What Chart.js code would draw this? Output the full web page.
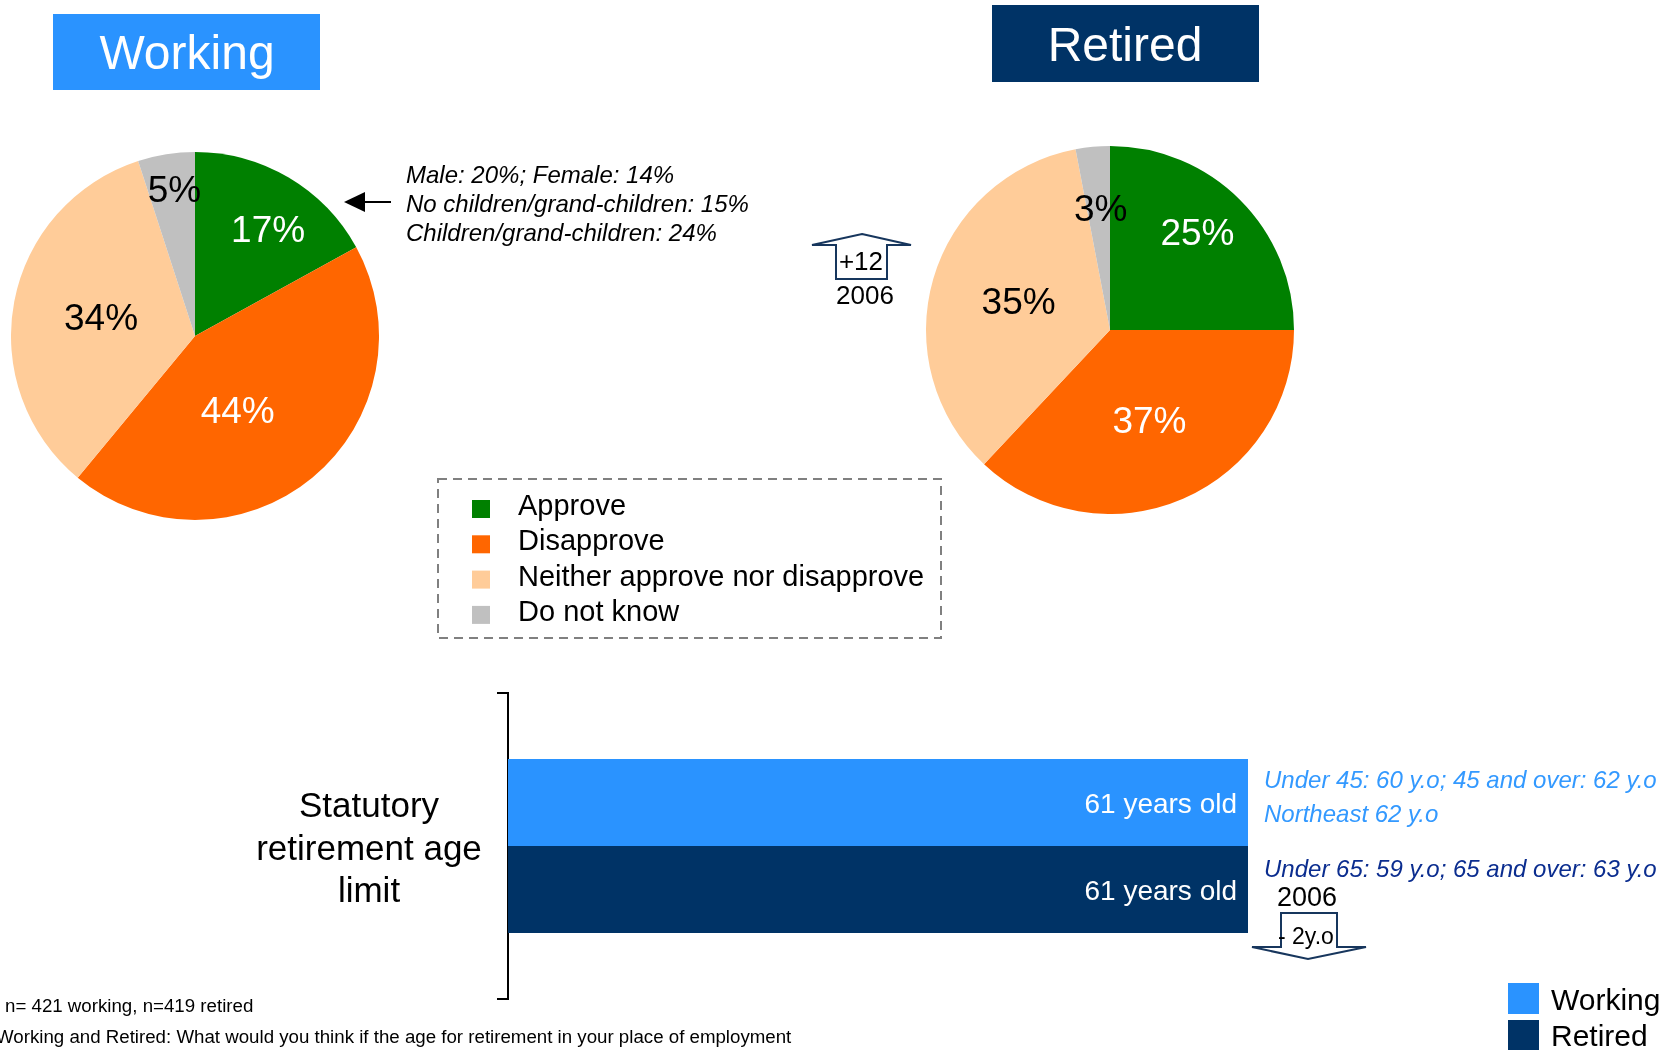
<!DOCTYPE html>
<html>
<head>
<meta charset="utf-8">
<script src="https://cdn.jsdelivr.net/npm/chart.js@4"></script>
<style>
  html, body { margin: 0; padding: 0; background: #fff; }
  #page { position: relative; width: 1680px; height: 1050px; overflow: hidden; font-family: "Liberation Sans", Arial, sans-serif; }
  canvas { position: absolute; }
  #overlay { position: absolute; left: 0; top: 0; pointer-events: none; }
</style>
</head>
<body>
<div id="page">
  <canvas id="workingPie" width="368" height="368" style="left:11px;top:152px"></canvas>
  <canvas id="retiredPie" width="368" height="368" style="left:926px;top:146px"></canvas>
  <canvas id="ageBar" width="1248" height="326" style="left:0;top:683px"></canvas>
  <svg id="overlay" width="1680" height="1050" xmlns="http://www.w3.org/2000/svg"></svg>
</div>
<script>
// pie data
const categories = ['Approve', 'Disapprove', 'Neither approve nor disapprove', 'Do not know'];
const workingShares = [17, 44, 34, 5];
const retiredShares = [25, 37, 35, 3];

// bar data
const barCategory = [['Statutory', 'retirement age', 'limit']];
const barSeries = ['Working', 'Retired'];
const workingAge = [61];
const retiredAge = [61];

const FONT = '"Liberation Sans", Arial, sans-serif';
const SLICE_COLORS = ['#008000', '#FF6600', '#FFCC99', '#C0C0C0'];
const SLICE_TEXT = ['#FFFFFF', '#FFFFFF', '#000000', '#000000'];
const SERIES_COLORS = ['#2A93FF', '#003366'];

// percent labels inside slices: radius fraction + small angle shift (deg) per slice
const pieLabels = {
    id: 'pieLabels',
    afterDatasetsDraw(chart, args, opts) {
        const ctx = chart.ctx;
        const meta = chart.getDatasetMeta(0);
        const data = chart.data.datasets[0].data;
        meta.data.forEach((arc, i) => {
            const p = arc.getProps(['x', 'y', 'startAngle', 'endAngle', 'outerRadius'], true);
            const mid = (p.startAngle + p.endAngle) / 2 + opts.shift[i] * Math.PI / 180;
            const r = p.outerRadius * opts.radius[i];
            ctx.save();
            ctx.font = '37px ' + FONT;
            ctx.fillStyle = SLICE_TEXT[i];
            ctx.textAlign = 'center';
            ctx.textBaseline = 'middle';
            ctx.fillText(data[i] + '%', p.x + Math.cos(mid) * r, p.y + Math.sin(mid) * r + 2);
            ctx.restore();
        });
    }
};

function makePie(id, values, radius, shift) {
    new Chart(document.getElementById(id), {
        type: 'pie',
        data: {
            labels: categories,
            datasets: [{ data: values, backgroundColor: SLICE_COLORS, borderWidth: 0 }]
        },
        options: {
            responsive: false,
            animation: false,
            layout: { padding: 0 },
            plugins: {
                legend: { display: false },
                tooltip: { enabled: false },
                pieLabels: { radius: radius, shift: shift }
            }
        },
        plugins: [pieLabels]
    });
}

makePie('workingPie', workingShares, [0.70, 0.47, 0.52, 0.80], [4, 10, 0, 1]);
makePie('retiredPie', retiredShares, [0.71, 0.54, 0.52, 0.66], [-3, 0, 1, 1]);

// "61 years old" inside the bars + the category label left of the bracket
const barLabels = {
    id: 'barLabels',
    afterDatasetsDraw(chart) {
        const ctx = chart.ctx;
        chart.data.datasets.forEach((ds, di) => {
            chart.getDatasetMeta(di).data.forEach((bar, i) => {
                ctx.save();
                ctx.font = '28px ' + FONT;
                ctx.fillStyle = '#FFFFFF';
                ctx.textAlign = 'right';
                ctx.textBaseline = 'middle';
                ctx.fillText(ds.data[i] + ' years old', bar.x - 11, bar.y + 3);
                ctx.restore();
            });
        });
        const y = chart.scales.y;
        chart.data.labels.forEach((lines, i) => {
            const cy = y.getPixelForTick(i) + 4;
            const lh = 42.5;
            ctx.save();
            ctx.font = '35px ' + FONT;
            ctx.fillStyle = '#000';
            ctx.textAlign = 'center';
            ctx.textBaseline = 'middle';
            lines.forEach((s, k) => {
                ctx.fillText(s, 369, cy + (k - (lines.length - 1) / 2) * lh);
            });
            ctx.restore();
        });
    }
};

new Chart(document.getElementById('ageBar'), {
    type: 'bar',
    data: {
        labels: barCategory,
        datasets: [
            { label: barSeries[0], data: workingAge, backgroundColor: SERIES_COLORS[0] },
            { label: barSeries[1], data: retiredAge, backgroundColor: SERIES_COLORS[1] }
        ]
    },
    options: {
        indexAxis: 'y',
        responsive: false,
        animation: false,
        layout: { padding: { top: 10, bottom: 10, left: 0, right: 0 } },
        datasets: { bar: { categoryPercentage: 0.569, barPercentage: 1.0, borderWidth: 0 } },
        scales: {
            x: { display: false, min: 0, max: Math.max(...workingAge, ...retiredAge) },
            y: {
                afterFit: (scale) => { scale.width = 508; },
                border: { display: true, color: '#000', width: 2 },
                grid: { drawOnChartArea: false, drawTicks: true, tickLength: 11, color: '#000', lineWidth: 2 },
                ticks: { display: false }
            }
        },
        plugins: { legend: { display: false }, tooltip: { enabled: false } }
    },
    plugins: [barLabels]
});

// ---- overlay: titles, notes, arrows, legends ----
const svg = document.getElementById('overlay');
const NS = 'http://www.w3.org/2000/svg';

function el(tag, attrs, text) {
    const e = document.createElementNS(NS, tag);
    for (const k in attrs) e.setAttribute(k, attrs[k]);
    if (text !== undefined) e.textContent = text;
    svg.appendChild(e);
    return e;
}

function txt(x, y, s, size, extra) {
    return el('text', Object.assign({ x: x, y: y, 'font-family': FONT, 'font-size': size, fill: '#000' }, extra || {}), s);
}

// title boxes
el('rect', { x: 53, y: 14, width: 267, height: 76, fill: SERIES_COLORS[0] });
txt(187, 69, barSeries[0], 48, { fill: '#fff', 'text-anchor': 'middle' });
el('rect', { x: 992, y: 5, width: 267, height: 77, fill: SERIES_COLORS[1] });
txt(1125, 61, barSeries[1], 48, { fill: '#fff', 'text-anchor': 'middle' });

// note beside the working pie
txt(406, 183, 'Male: 20%; Female: 14%', 24, { 'font-style': 'italic' });
txt(406, 212, 'No children/grand-children: 15%', 24, { 'font-style': 'italic' });
txt(406, 241, 'Children/grand-children: 24%', 24, { 'font-style': 'italic' });
el('line', { x1: 391, y1: 202, x2: 360, y2: 202, stroke: '#000', 'stroke-width': 2 });
el('polygon', { points: '344,202 365,192 365,212', fill: '#000' });

// change since 2006 (up)
el('polygon', { points: '862,234 911,245 887,245 887,279 836,279 836,245 812,245', fill: '#fff', stroke: '#17365D', 'stroke-width': 2 });
txt(861, 270, '+12', 26, { 'text-anchor': 'middle' });
txt(865, 304, '2006', 26, { 'text-anchor': 'middle' });

// pie legend
el('rect', { x: 438, y: 479, width: 503, height: 159, fill: 'none', stroke: '#808080', 'stroke-width': 2, 'stroke-dasharray': '9 6' });
categories.forEach((c, i) => {
    const base = 515 + i * 35.3;
    el('rect', { x: 472, y: base - 15, width: 18, height: 18, fill: SLICE_COLORS[i] });
    txt(518, base, c, 29);
});

// notes beside the bars
txt(1264, 788, 'Under 45: 60 y.o; 45 and over: 62 y.o', 24, { 'font-style': 'italic', fill: '#3399FF' });
txt(1264, 822, 'Northeast 62 y.o', 24, { 'font-style': 'italic', fill: '#3399FF' });
txt(1264, 877, 'Under 65: 59 y.o; 65 and over: 63 y.o', 24, { 'font-style': 'italic', fill: '#0B2D8F' });

// change since 2006 (down)
txt(1307, 906, '2006', 27, { 'text-anchor': 'middle' });
el('polygon', { points: '1281,913 1337,913 1337,947 1366,947 1308,959 1252,947 1281,947', fill: '#fff', stroke: '#17365D', 'stroke-width': 2 });
txt(1278, 944, '- 2y.o', 23);

// bar legend
barSeries.forEach((s, i) => {
    el('rect', { x: 1508, y: 983 + i * 37, width: 31, height: 31, fill: SERIES_COLORS[i] });
    txt(1551, 1010 + i * 36, s, 30);
});

// footnotes
txt(5, 1012, 'n= 421  working, n=419 retired', 18.7);
txt(-4, 1043, 'Working and Retired: What would you think if the age for retirement in your place of employment', 18.7);
</script>
</body>
</html>
